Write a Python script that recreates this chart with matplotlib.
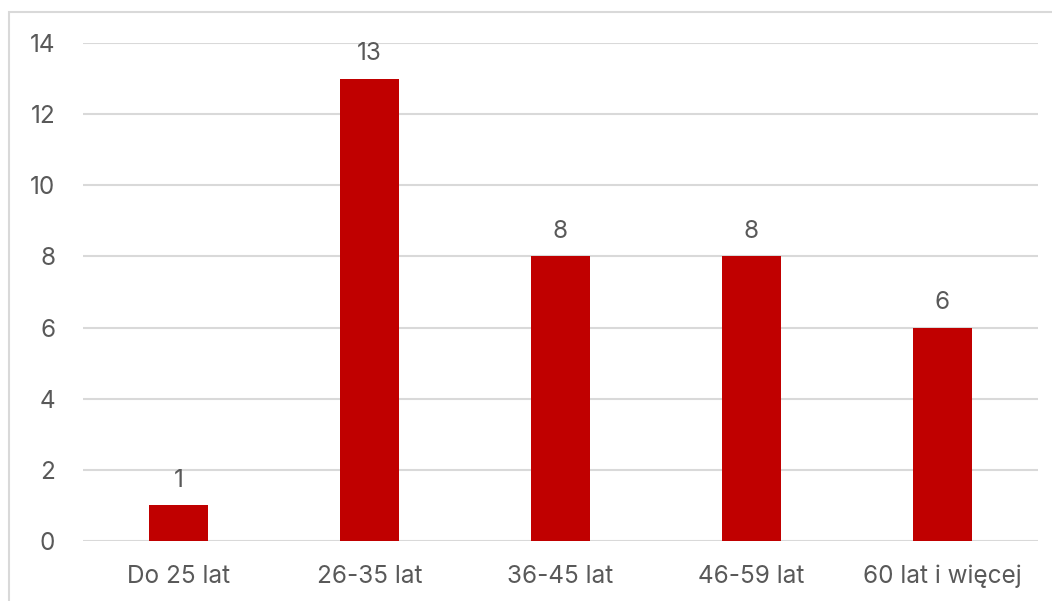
import matplotlib.pyplot as plt
from matplotlib.patches import Rectangle

categories = ['Do 25 lat', '26-35 lat', '36-45 lat', '46-59 lat', '60 lat i więcej']
values = [1, 13, 8, 8, 6]
y_ticks = [0, 2, 4, 6, 8, 10, 12, 14]

plt.rcParams['font.family'] = ['Inter', 'DejaVu Sans']
text_color = '#595959'
fs = 17.5

fig = plt.figure(figsize=(10.52, 6.01), dpi=100)
ax = fig.add_axes([83 / 1052, 60 / 601, 955 / 1052, 498 / 601])

bars = ax.bar(range(len(categories)), values, width=0.31, color='#C00000', zorder=3)
ax.bar_label(bars, labels=[str(v) for v in values], padding=10, fontsize=fs, color=text_color)

ax.set_xlim(-0.5, len(categories) - 0.5)
ax.set_ylim(0, 14)
ax.set_yticks(y_ticks)
ax.set_xticks(range(len(categories)))
ax.set_xticklabels(categories)
ax.tick_params(axis='both', length=0, labelsize=fs, labelcolor=text_color)
ax.tick_params(axis='y', pad=20)
ax.tick_params(axis='x', pad=17)
ax.grid(axis='y', color='#D9D9D9', linewidth=1.5, zorder=0)
for s in ax.spines.values():
    s.set_visible(False)

# chart border (clipped on the right and bottom like the reference)
fig.patches.append(Rectangle((9 / 1052, -0.1), 1.2, (601 - 12) / 601 + 0.1,
                             transform=fig.transFigure, fill=False,
                             edgecolor='#D9D9D9', linewidth=1.5))

fig.savefig('out.png', dpi=100)
